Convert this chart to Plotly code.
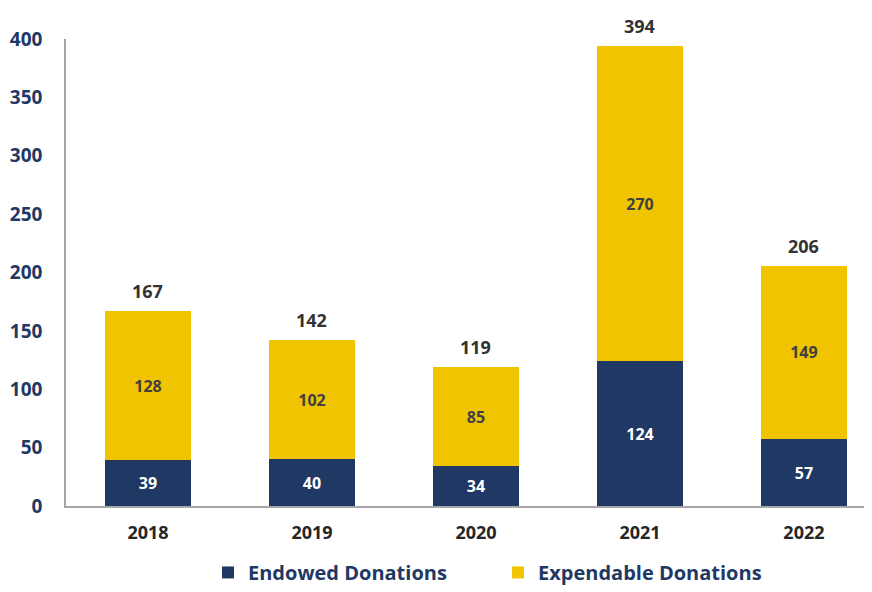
import plotly.graph_objects as go

years = ["2018", "2019", "2020", "2021", "2022"]
endowed = [39, 40, 34, 124, 57]
expendable = [128, 102, 85, 270, 149]
totals = [167, 142, 119, 394, 206]
y_ticks = [0, 50, 100, 150, 200, 250, 300, 350, 400]

NAVY = "#1F3864"
GOLD = "#F0C400"
FONT = "Open Sans"

fig = go.Figure()
fig.add_trace(go.Bar(
    x=years, y=endowed, name="Endowed Donations", marker_color=NAVY,
    marker_line_width=0,
    width=0.525, text=endowed, textposition="inside", insidetextanchor="middle",
    textfont=dict(family=FONT, size=16, color="white", weight="bold"), textangle=0,
))
fig.add_trace(go.Bar(
    x=years, y=expendable, name="Expendable Donations", marker_color=GOLD,
    marker_line_width=0,
    width=0.525, text=expendable, textposition="inside", insidetextanchor="middle",
    textfont=dict(family=FONT, size=16, color="#404040", weight="bold"), textangle=0,
))
for i, t in enumerate(totals):
    fig.add_annotation(x=i, y=t, xref="x", yref="y", text=str(t), showarrow=False,
                       yanchor="bottom", yshift=6,
                       font=dict(family=FONT, size=18, color="#333333", weight="bold"))

fig.update_layout(
    barmode="stack",
    width=864, height=584,
    margin=dict(l=58, r=0, t=31, b=86, autoexpand=False),
    plot_bgcolor="white", paper_bgcolor="white",
    font=dict(family=FONT, color=NAVY),
    legend=dict(orientation="h", x=0.536, xanchor="center", y=-0.184, yanchor="bottom",
                font=dict(family=FONT, size=20, color=NAVY, weight="bold"),
                traceorder="normal", entrywidth=245, entrywidthmode="pixels"),
    xaxis=dict(type="category", range=[-0.5, 4.415], automargin=False,
               showline=True, linecolor="#A6A6A6", linewidth=1.5,
               ticks="", tickfont=dict(family=FONT, size=18, color="#262626", weight="bold"),
               ticklabelstandoff=10),
    yaxis=dict(range=[0, 400], tickvals=y_ticks, showgrid=False, zeroline=False,
               automargin=False,
               showline=True, linecolor="#A6A6A6", linewidth=1.5, ticks="",
               tickfont=dict(family=FONT, size=19, color=NAVY, weight="bold"),
               ticklabelstandoff=18),
)

fig.write_html("out.html")
